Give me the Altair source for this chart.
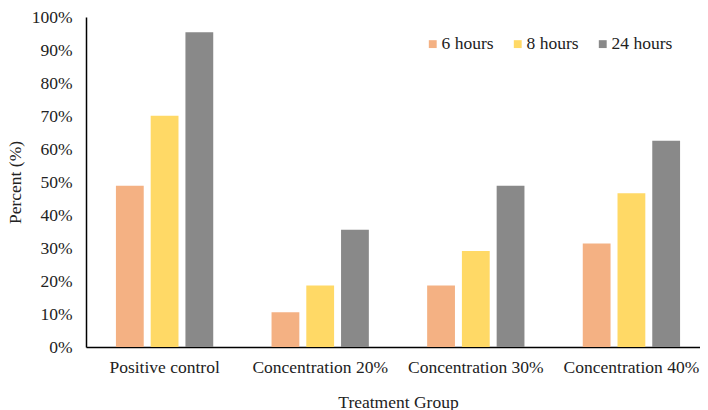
import altair as alt
import pandas as pd

groups = ["Positive control", "Concentration 20%", "Concentration 30%", "Concentration 40%"]
series = ["6 hours", "8 hours", "24 hours"]
h6 = [48.9, 10.5, 18.6, 31.4]
h8 = [70.1, 18.6, 29.1, 46.6]
h24 = [95.4, 35.5, 48.9, 62.5]
colors = ["#F4B183", "#FFD966", "#898989"]

rows = []
for s, vals in zip(series, [h6, h8, h24]):
    for g, v in zip(groups, vals):
        rows.append({"group": g, "series": s, "value": v / 100.0})
df = pd.DataFrame(rows)

FONT = "Liberation Serif"
TXT = "#222222"
FS = 17.5

chart = alt.Chart(df).mark_bar().encode(
    x=alt.X("group:N", sort=groups,
            scale=alt.Scale(range=[0, 624], paddingInner=0.33, paddingOuter=0.17),
            axis=alt.Axis(title="Treatment Group", labelAngle=0, ticks=False,
                          labelPadding=11, titlePadding=18, domainColor="#000000",
                          domainWidth=1.5, labelFont=FONT, titleFont=FONT,
                          labelFontSize=FS, titleFontSize=FS, labelColor=TXT,
                          titleColor=TXT, titleFontWeight="normal")),
    xOffset=alt.XOffset("series:N", sort=series,
                        scale=alt.Scale(paddingInner=0.2, paddingOuter=0.1)),
    y=alt.Y("value:Q",
            scale=alt.Scale(domain=[0, 1], nice=False),
            axis=alt.Axis(title="Percent (%)", format=".0%", values=[i / 10 for i in range(11)],
                          ticks=False, grid=False, labelPadding=14, titlePadding=7,
                          domainColor="#000000", domainWidth=1.5, labelFont=FONT,
                          titleFont=FONT, labelFontSize=FS, titleFontSize=FS,
                          labelColor=TXT, titleColor=TXT, titleFontWeight="normal")),
    color=alt.Color("series:N", sort=series,
                    scale=alt.Scale(domain=series, range=colors),
                    legend=alt.Legend(title=None, orient="none", direction="horizontal",
                                      legendX=338, legendY=18, symbolType="square",
                                      symbolSize=62, symbolStrokeWidth=0, labelOffset=0,
                                      columnPadding=15, labelFontSize=FS, labelFont=FONT,
                                      labelColor=TXT)),
).properties(
    width=614, height=330,
    autosize=alt.AutoSizeParams(type="none"),
    padding={"left": 78, "top": 9, "right": 0, "bottom": 63},
    background="white",
).configure_view(stroke=None)

chart.save("out.html", embed_options={"renderer": "svg", "actions": False})
